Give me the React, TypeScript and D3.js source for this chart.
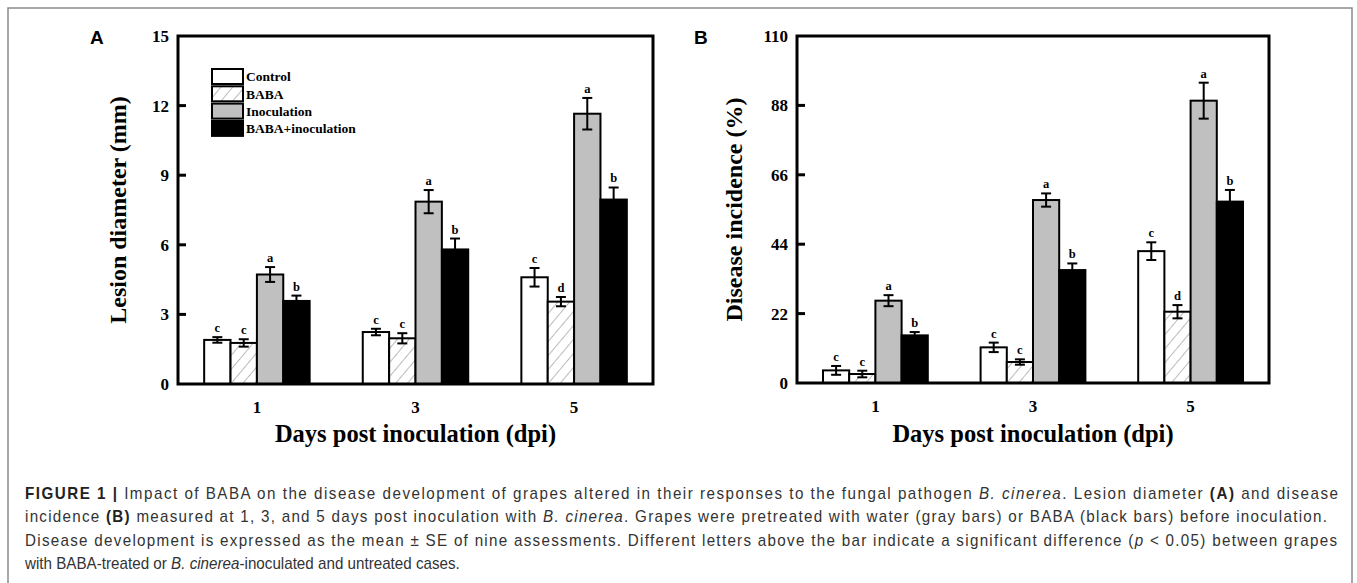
import React, { useEffect, useRef } from 'react';
import * as d3 from 'd3';

// categories
const days = ['1', '3', '5'];
const treatments = ['Control', 'BABA', 'Inoculation', 'BABA+inoculation'];

// Panel A: lesion diameter (mm), mean and SE per day
const lesionControl = [1.9, 2.24, 4.6];
const lesionBaba = [1.77, 1.97, 3.55];
const lesionInoc = [4.72, 7.86, 11.65];
const lesionBabaInoc = [3.58, 5.8, 7.95];
const lesionControlSE = [0.12, 0.14, 0.4];
const lesionBabaSE = [0.16, 0.22, 0.2];
const lesionInocSE = [0.32, 0.5, 0.68];
const lesionBabaInocSE = [0.23, 0.47, 0.52];
const lesionLetters = [['c', 'c', 'a', 'b'], ['c', 'c', 'a', 'b'], ['c', 'd', 'a', 'b']];
const lesionTicks = [0, 3, 6, 9, 12, 15];

// Panel B: disease incidence (%)
const incControl = [4.0, 11.3, 41.8];
const incBaba = [2.85, 6.65, 22.6];
const incInoc = [26.1, 58.0, 89.5];
const incBabaInoc = [15.1, 35.8, 57.5];
const incControlSE = [1.4, 1.5, 2.8];
const incBabaSE = [1.05, 0.85, 2.1];
const incInocSE = [1.75, 2.1, 5.7];
const incBabaInocSE = [1.05, 2.1, 3.7];
const incLetters = [['c', 'c', 'a', 'b'], ['c', 'c', 'a', 'b'], ['c', 'd', 'a', 'b']];
const incTicks = [0, 22, 44, 66, 88, 110];

const serif = '"Liberation Serif", "Times New Roman", serif';
const sans = '"Liberation Sans", Arial, sans-serif';

const App = () => {
  const svgRef = useRef(null);

  useEffect(() => {
    const svg = d3.select(svgRef.current);
    svg.selectAll('*').remove();

    // hatch pattern for BABA bars
    const defs = svg.append('defs');
    const pat = defs.append('pattern')
      .attr('id', 'hatch')
      .attr('patternUnits', 'userSpaceOnUse')
      .attr('width', 9)
      .attr('height', 9)
      .attr('patternTransform', 'rotate(40)');
    pat.append('rect').attr('width', 9).attr('height', 9).attr('fill', '#fff');
    pat.append('line')
      .attr('x1', 0).attr('y1', 0).attr('x2', 0).attr('y2', 9)
      .attr('stroke', '#777').attr('stroke-width', 1);

    const fills = ['#ffffff', 'url(#hatch)', '#c0c0c0', '#000000'];

    // outer figure border
    svg.append('path')
      .attr('d', 'M8,583 L8,8 L1352,8 L1352,583')
      .attr('fill', 'none')
      .attr('stroke', '#8a8a8a')
      .attr('stroke-width', 1.5);

    const drawPanel = (cfg) => {
      const g = svg.append('g');
      const x = d3.scaleBand()
        .domain(days)
        .range([cfg.left, cfg.right])
        .paddingInner(0.335)
        .paddingOuter(0.165);
      const xi = d3.scaleBand()
        .domain(treatments)
        .range([0, x.bandwidth()]);
      const y = d3.scaleLinear()
        .domain([0, cfg.max])
        .range([cfg.bottom, cfg.top]);

      // bars
      days.forEach((day, di) => {
        treatments.forEach((t, ti) => {
          const v = cfg.means[ti][di];
          const se = cfg.ses[ti][di];
          const bx = x(day) + xi(t);
          g.append('rect')
            .attr('x', bx)
            .attr('y', y(v))
            .attr('width', xi.bandwidth())
            .attr('height', y(0) - y(v))
            .attr('fill', fills[ti])
            .attr('stroke', '#000')
            .attr('stroke-width', 2);
          const cx = bx + xi.bandwidth() / 2;
          // error bar
          g.append('line')
            .attr('x1', cx).attr('x2', cx)
            .attr('y1', y(v - se)).attr('y2', y(v + se))
            .attr('stroke', '#000')
            .attr('stroke-width', 2);
          [v - se, v + se].forEach((e) => {
            g.append('line')
              .attr('x1', cx - 5).attr('x2', cx + 5)
              .attr('y1', y(e)).attr('y2', y(e))
              .attr('stroke', '#000')
              .attr('stroke-width', 2);
          });
          g.append('text')
            .attr('x', cx)
            .attr('y', y(v + se) - 5)
            .attr('text-anchor', 'middle')
            .style('font-family', serif)
            .style('font-weight', 'bold')
            .style('font-size', '12.5px')
            .text(cfg.letters[di][ti]);
        });
      });

      // frame
      g.append('rect')
        .attr('x', cfg.left)
        .attr('y', cfg.top)
        .attr('width', cfg.right - cfg.left)
        .attr('height', cfg.bottom - cfg.top)
        .attr('fill', 'none')
        .attr('stroke', '#000')
        .attr('stroke-width', 3);

      // y ticks (inward)
      cfg.ticks.forEach((t) => {
        if (t !== 0 && t !== cfg.max) {
          g.append('line')
            .attr('x1', cfg.left).attr('x2', cfg.left + 8)
            .attr('y1', y(t)).attr('y2', y(t))
            .attr('stroke', '#000')
            .attr('stroke-width', 3);
        }
        g.append('text')
          .attr('x', cfg.left - 9)
          .attr('y', y(t))
          .attr('dy', '0.35em')
          .attr('text-anchor', 'end')
          .style('font-family', serif)
          .style('font-weight', 'bold')
          .style('font-size', '17px')
          .text(t);
      });

      // x labels
      days.forEach((day) => {
        g.append('text')
          .attr('x', x(day) + x.bandwidth() / 2)
          .attr('y', cfg.bottom + 29)
          .attr('text-anchor', 'middle')
          .style('font-family', serif)
          .style('font-weight', 'bold')
          .style('font-size', '17px')
          .text(day);
      });

      // axis titles
      g.append('text')
        .attr('x', (cfg.left + cfg.right) / 2)
        .attr('y', 442)
        .attr('text-anchor', 'middle')
        .style('font-family', serif)
        .style('font-weight', 'bold')
        .style('font-size', '24.5px')
        .text('Days post inoculation (dpi)');

      g.append('text')
        .attr('transform', `translate(${cfg.titleX},${(cfg.top + cfg.bottom) / 2}) rotate(-90)`)
        .attr('text-anchor', 'middle')
        .style('font-family', serif)
        .style('font-weight', 'bold')
        .style('font-size', '24px')
        .text(cfg.title);

      // panel letter
      g.append('text')
        .attr('x', cfg.letterX)
        .attr('y', 44)
        .style('font-family', sans)
        .style('font-weight', 'bold')
        .style('font-size', '19px')
        .text(cfg.panel);
    };

    drawPanel({
      panel: 'A', letterX: 90,
      left: 178, right: 653, top: 36, bottom: 384,
      max: 15, ticks: lesionTicks,
      means: [lesionControl, lesionBaba, lesionInoc, lesionBabaInoc],
      ses: [lesionControlSE, lesionBabaSE, lesionInocSE, lesionBabaInocSE],
      letters: lesionLetters,
      title: 'Lesion diameter (mm)', titleX: 126,
    });

    drawPanel({
      panel: 'B', letterX: 694,
      left: 797, right: 1269, top: 36, bottom: 383,
      max: 110, ticks: incTicks,
      means: [incControl, incBaba, incInoc, incBabaInoc],
      ses: [incControlSE, incBabaSE, incInocSE, incBabaInocSE],
      letters: incLetters,
      title: 'Disease incidence (%)', titleX: 742,
    });

    // legend (panel A)
    const leg = svg.append('g').attr('transform', 'translate(212,69)');
    treatments.forEach((t, i) => {
      leg.append('rect')
        .attr('x', 0)
        .attr('y', i * 17.3)
        .attr('width', 31)
        .attr('height', 15)
        .attr('fill', fills[i])
        .attr('stroke', '#000')
        .attr('stroke-width', 2);
      leg.append('text')
        .attr('x', 34)
        .attr('y', i * 17.3 + 7.5)
        .attr('dy', '0.35em')
        .style('font-family', serif)
        .style('font-weight', 'bold')
        .style('font-size', '13.5px')
        .text(t);
    });

    // caption (justified lines, last one left as is)
    const sx = 0.95;
    const cap = svg.append('g')
      .style('font-family', sans)
      .style('font-size', '16px')
      .attr('fill', '#333');
    const lines = [
      { y: 499, len: 1313, parts: [['FIGURE 1 |', 'b'], [' Impact of BABA on the disease development of grapes altered in their responses to the fungal pathogen ', ''], ['B. cinerea', 'i'], ['. Lesion diameter ', ''], ['(A)', 'b'], [' and disease', '']] },
      { y: 522, len: 1302, parts: [['incidence ', ''], ['(B)', 'b'], [' measured at 1, 3, and 5 days post inoculation with ', ''], ['B. cinerea', 'i'], ['. Grapes were pretreated with water (gray bars) or BABA (black bars) before inoculation.', '']] },
      { y: 546, len: 1312, parts: [['Disease development is expressed as the mean \u00b1 SE of nine assessments. Different letters above the bar indicate a significant difference (', ''], ['p', 'i'], [' < 0.05) between grapes', '']] },
      { y: 569, len: 0, parts: [['with BABA-treated or ', ''], ['B. cinerea', 'i'], ['-inoculated and untreated cases.', '']] },
    ];
    lines.forEach((ln) => {
      const tx = cap.append('text')
        .attr('transform', `translate(25,${ln.y}) scale(${sx},1)`);
      if (ln.len) {
        tx.attr('textLength', ln.len / sx).attr('lengthAdjust', 'spacing');
      }
      ln.parts.forEach(([s, f]) => {
        tx.append('tspan')
          .style('font-weight', f === 'b' ? 'bold' : 'normal')
          .style('font-style', f === 'i' ? 'italic' : 'normal')
          .attr('fill', f === 'b' ? '#222' : '#333')
          .text(s);
      });
    });
  }, []);

  return (
    <svg
      ref={svgRef}
      width={1357}
      height={583}
      style={{ position: 'absolute', left: 0, top: 0, background: '#fff' }}
    ></svg>
  );
};

export default App;
